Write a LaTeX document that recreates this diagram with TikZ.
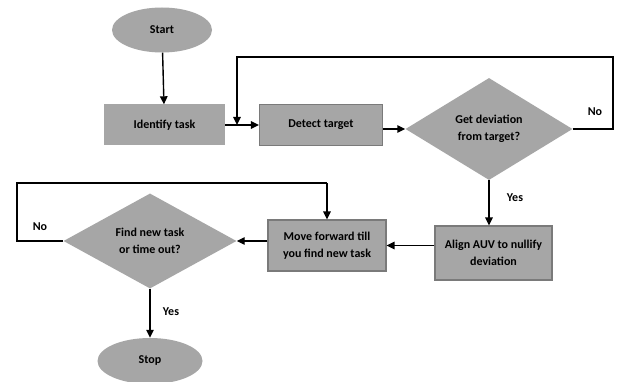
\documentclass[tikz,border=0pt]{standalone}
\usepackage{fontspec}
\setmainfont{Carlito}
\usetikzlibrary{shapes.geometric,arrows.meta}
\tikzset{
  base/.style={fill=boxgray, font=\bfseries\fontsize{12}{17.5}\selectfont, align=center, inner sep=0pt},
  terminal/.style={base, ellipse},
  plainbox/.style={base, rectangle},
  framedbox/.style={base, rectangle, draw=edgegray, line width=1.2pt},
  decision/.style={base, diamond},
  flow/.style={line width=1.4pt, -{Triangle[length=8pt,width=7.5pt]}},
  wire/.style={line width=1.4pt},
  lbl/.style={font=\bfseries\fontsize{12}{14}\selectfont, inner sep=0pt}
}
\definecolor{boxgray}{HTML}{A6A6A6}
\definecolor{edgegray}{HTML}{7A7A7A}
\begin{document}
\begin{tikzpicture}[x=1pt,y=-1pt]
\useasboundingbox (0,0) rectangle (618,382);
\fill[white] (0,0) rectangle (618,382);

% process nodes
\node[terminal, minimum width=100pt, minimum height=45pt] (start) at (162,30) {Start};
\node[plainbox, minimum width=121pt, minimum height=41pt] (ident) at (164.5,125) {Identify task};
\node[framedbox, minimum width=123pt, minimum height=41pt] (detect) at (321,125) {Detect target};
\node[decision, minimum width=167pt, minimum height=102pt] (dev) at (489,129) {Get deviation\\from target?};
\node[framedbox, minimum width=117pt, minimum height=54pt] (align) at (493.5,253) {Align AUV to nullify\\deviation};
\node[framedbox, minimum width=118pt, minimum height=51pt] (move) at (327,245.5) {Move forward till\\you find new task};
\node[decision, minimum width=173pt, minimum height=95pt] (task) at (150,241) {Find new task\\or time out?};
\node[terminal, minimum width=105pt, minimum height=46pt] (stop) at (150,361) {Stop};

% forward flow
\draw[flow] (start) -- (ident);
\draw[flow] (ident.east) -- (detect.west);
\draw[flow] (detect.east |- dev.west) -- (dev.west);
\draw[flow] (dev.south) -- (dev.south |- align.north);
\draw[flow] (align.west |- move.east) -- (move.east);
\draw[flow] (move.west |- task.east) -- (task.east);
\draw[flow] (task.south) -- (stop.north);

% "No" loop back to detection
\coordinate (j1) at (237,125);
\draw[wire] (dev.east) -- (613,129) -- (613,57) -- (237,57) -- ++(0,60);
\draw[flow] (237,100) -- (j1);

% "No" loop back to moving forward
\draw[wire] (task.west) -- (17,241) -- (17,183) -- (move.north |- 0,183);
\draw[flow] (move.north |- 0,183) -- (move.north);

% branch labels
\node[lbl] (no1) at (595,112) {No};
\node[lbl] (yes1) at (515,198) {Yes};
\node[lbl] (no2) at (40,227) {No};
\node[lbl] (yes2) at (171,312) {Yes};
\end{tikzpicture}
\end{document}
